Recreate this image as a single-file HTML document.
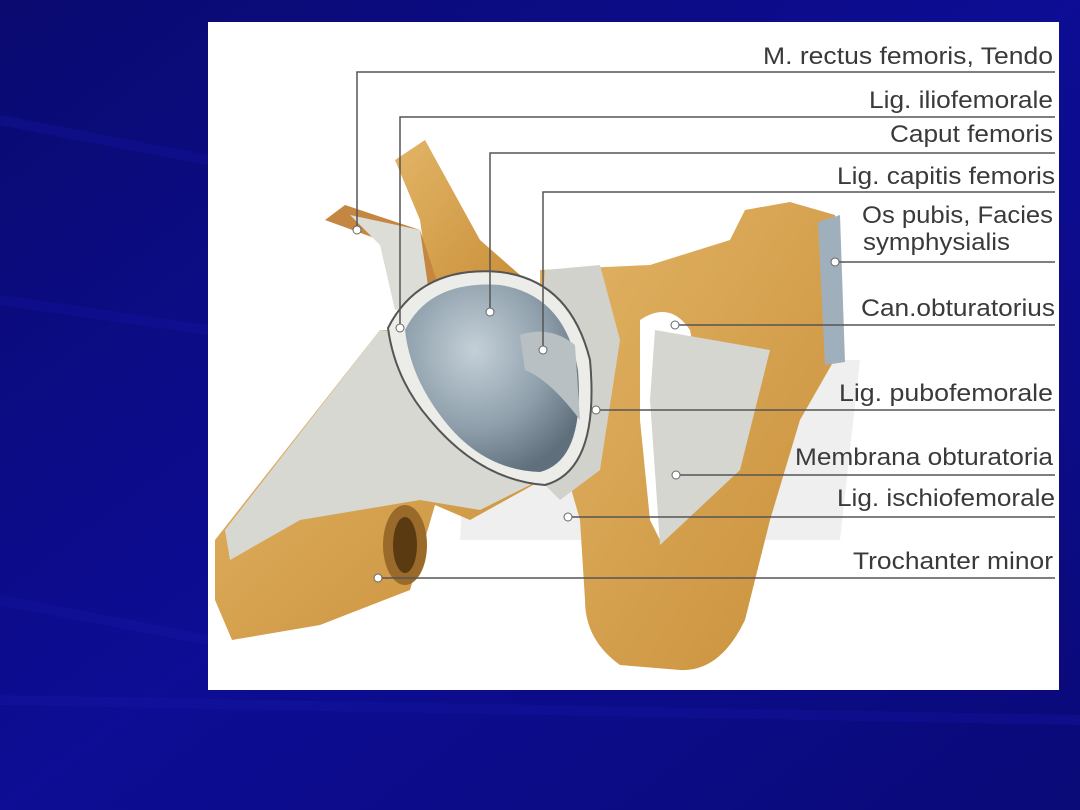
<!DOCTYPE html>
<html><head><meta charset="utf-8"><style>
html,body{margin:0;padding:0;width:1080px;height:810px;overflow:hidden;background:#0c0c86;}
svg{position:absolute;left:0;top:0}
</style></head><body>
<svg width="1080" height="810" viewBox="0 0 1080 810" xmlns="http://www.w3.org/2000/svg">
<defs>
<linearGradient id="bg" x1="0" y1="0" x2="1" y2="1">
<stop offset="0" stop-color="#0a0a70"/><stop offset="0.5" stop-color="#0d0d95"/><stop offset="1" stop-color="#0a0a78"/>
</linearGradient>
<radialGradient id="head" cx="0.4" cy="0.35" r="0.7">
<stop offset="0" stop-color="#c4d0d8"/><stop offset="0.6" stop-color="#8e9fab"/><stop offset="1" stop-color="#5f6f7b"/>
</radialGradient>
<linearGradient id="bone" x1="0" y1="0" x2="1" y2="1">
<stop offset="0" stop-color="#e2b566"/><stop offset="1" stop-color="#c98f3a"/>
</linearGradient>
</defs>
<rect width="1080" height="810" fill="url(#bg)"/>
<path d="M0 120 L208 160 M0 300 L208 330 M0 600 L208 640 M0 700 L1080 720" stroke="#1818a8" stroke-width="10" opacity="0.3"/>
<rect x="208" y="22" width="851" height="668" fill="#ffffff"/>
<!-- watermark -->
<path d="M470 360 L860 360 L840 540 L460 540 Z" fill="#efefef"/>
<!-- femur shaft -->
<path d="M215 540 L380 330 L470 330 L560 470 L470 520 L435 505 L410 590 L320 625 L232 640 L215 600 Z" fill="url(#bone)"/>
<path d="M225 530 L380 330 L470 340 L560 470 L480 510 L420 500 L300 520 L230 560 Z" fill="#d8d8d2"/>
<ellipse cx="405" cy="545" rx="22" ry="40" fill="#9a6a2a"/>
<ellipse cx="405" cy="545" rx="12" ry="28" fill="#5a3a10"/>
<!-- ilium upper -->
<path d="M395 160 L425 140 L480 240 L520 275 L430 290 L420 220 Z" fill="url(#bone)"/>
<path d="M325 220 L345 205 L420 230 L440 290 L410 300 L380 240 Z" fill="#c48640"/>
<path d="M350 215 L420 230 L430 300 L395 310 L380 245 Z" fill="#ddddd8"/>
<!-- pubis/ischium -->
<path d="M540 270 L650 265 L730 240 L745 210 L790 202 L835 215 L840 350 L800 420 L770 520 L745 620 Q720 672 680 670 L620 665 Q585 640 585 600 L580 520 L560 450 L540 380 Z" fill="url(#bone)"/>
<path d="M818 222 L840 215 L845 362 L825 365 Z" fill="#9fb0bc"/>
<path d="M640 320 Q670 300 690 330 L700 380 L680 470 L660 540 L650 520 L640 420 Z" fill="#ffffff"/>
<path d="M655 330 L770 350 L740 470 L660 545 L650 400 Z" fill="#d6d6d0"/>
<path d="M545 270 L600 265 L620 340 L600 470 L560 500 L530 470 Z" fill="#d2d2cc"/>
<!-- femoral head -->
<path d="M388 328 Q420 265 500 272 Q570 280 590 360 Q600 470 545 485 Q480 480 430 420 Q395 380 388 328 Z" fill="#ecece8" stroke="#555" stroke-width="2"/>
<path d="M405 330 Q430 280 500 285 Q565 295 578 370 Q585 460 540 472 Q480 470 440 415 Q410 375 405 330 Z" fill="url(#head)"/>
<path d="M520 335 Q550 325 575 345 L580 420 Q550 380 525 370 Z" fill="#b8c0c4"/>
<!-- leader lines -->
<g stroke="#555" stroke-width="1.5" fill="none">
<path d="M357 230 V72 H1055"/>
<path d="M400 328 V117 H1055"/>
<path d="M490 312 V153 H1055"/>
<path d="M543 350 V192 H1055"/>
<path d="M835 262 H1055"/>
<path d="M675 325 H1055"/>
<path d="M596 410 H1055"/>
<path d="M676 475 H1055"/>
<path d="M568 517 H1055"/>
<path d="M378 578 H1055"/>
</g>
<g fill="#fff" stroke="#666" stroke-width="1">
<circle cx="357" cy="230" r="4"/><circle cx="400" cy="328" r="4"/><circle cx="490" cy="312" r="4"/>
<circle cx="543" cy="350" r="4"/><circle cx="835" cy="262" r="4"/><circle cx="675" cy="325" r="4"/>
<circle cx="596" cy="410" r="4"/><circle cx="676" cy="475" r="4"/><circle cx="568" cy="517" r="4"/>
<circle cx="378" cy="578" r="4"/>
</g>
<g font-family="Liberation Sans, sans-serif" font-size="24" fill="#3a3a3a" text-anchor="end">
<text x="1053" y="64" textLength="290" lengthAdjust="spacingAndGlyphs">M. rectus femoris, Tendo</text>
<text x="1053" y="108" textLength="184" lengthAdjust="spacingAndGlyphs">Lig. iliofemorale</text>
<text x="1053" y="142" textLength="163" lengthAdjust="spacingAndGlyphs">Caput femoris</text>
<text x="1055" y="184" textLength="218" lengthAdjust="spacingAndGlyphs">Lig. capitis femoris</text>
<text x="1053" y="223" textLength="191" lengthAdjust="spacingAndGlyphs">Os pubis, Facies</text>
<text x="1010" y="250" textLength="147" lengthAdjust="spacingAndGlyphs">symphysialis</text>
<text x="1055" y="316" textLength="194" lengthAdjust="spacingAndGlyphs">Can.obturatorius</text>
<text x="1053" y="401" textLength="214" lengthAdjust="spacingAndGlyphs">Lig. pubofemorale</text>
<text x="1053" y="465" textLength="258" lengthAdjust="spacingAndGlyphs">Membrana obturatoria</text>
<text x="1055" y="506" textLength="218" lengthAdjust="spacingAndGlyphs">Lig. ischiofemorale</text>
<text x="1053" y="569" textLength="200" lengthAdjust="spacingAndGlyphs">Trochanter minor</text>
</g>
</svg>
</body></html>
